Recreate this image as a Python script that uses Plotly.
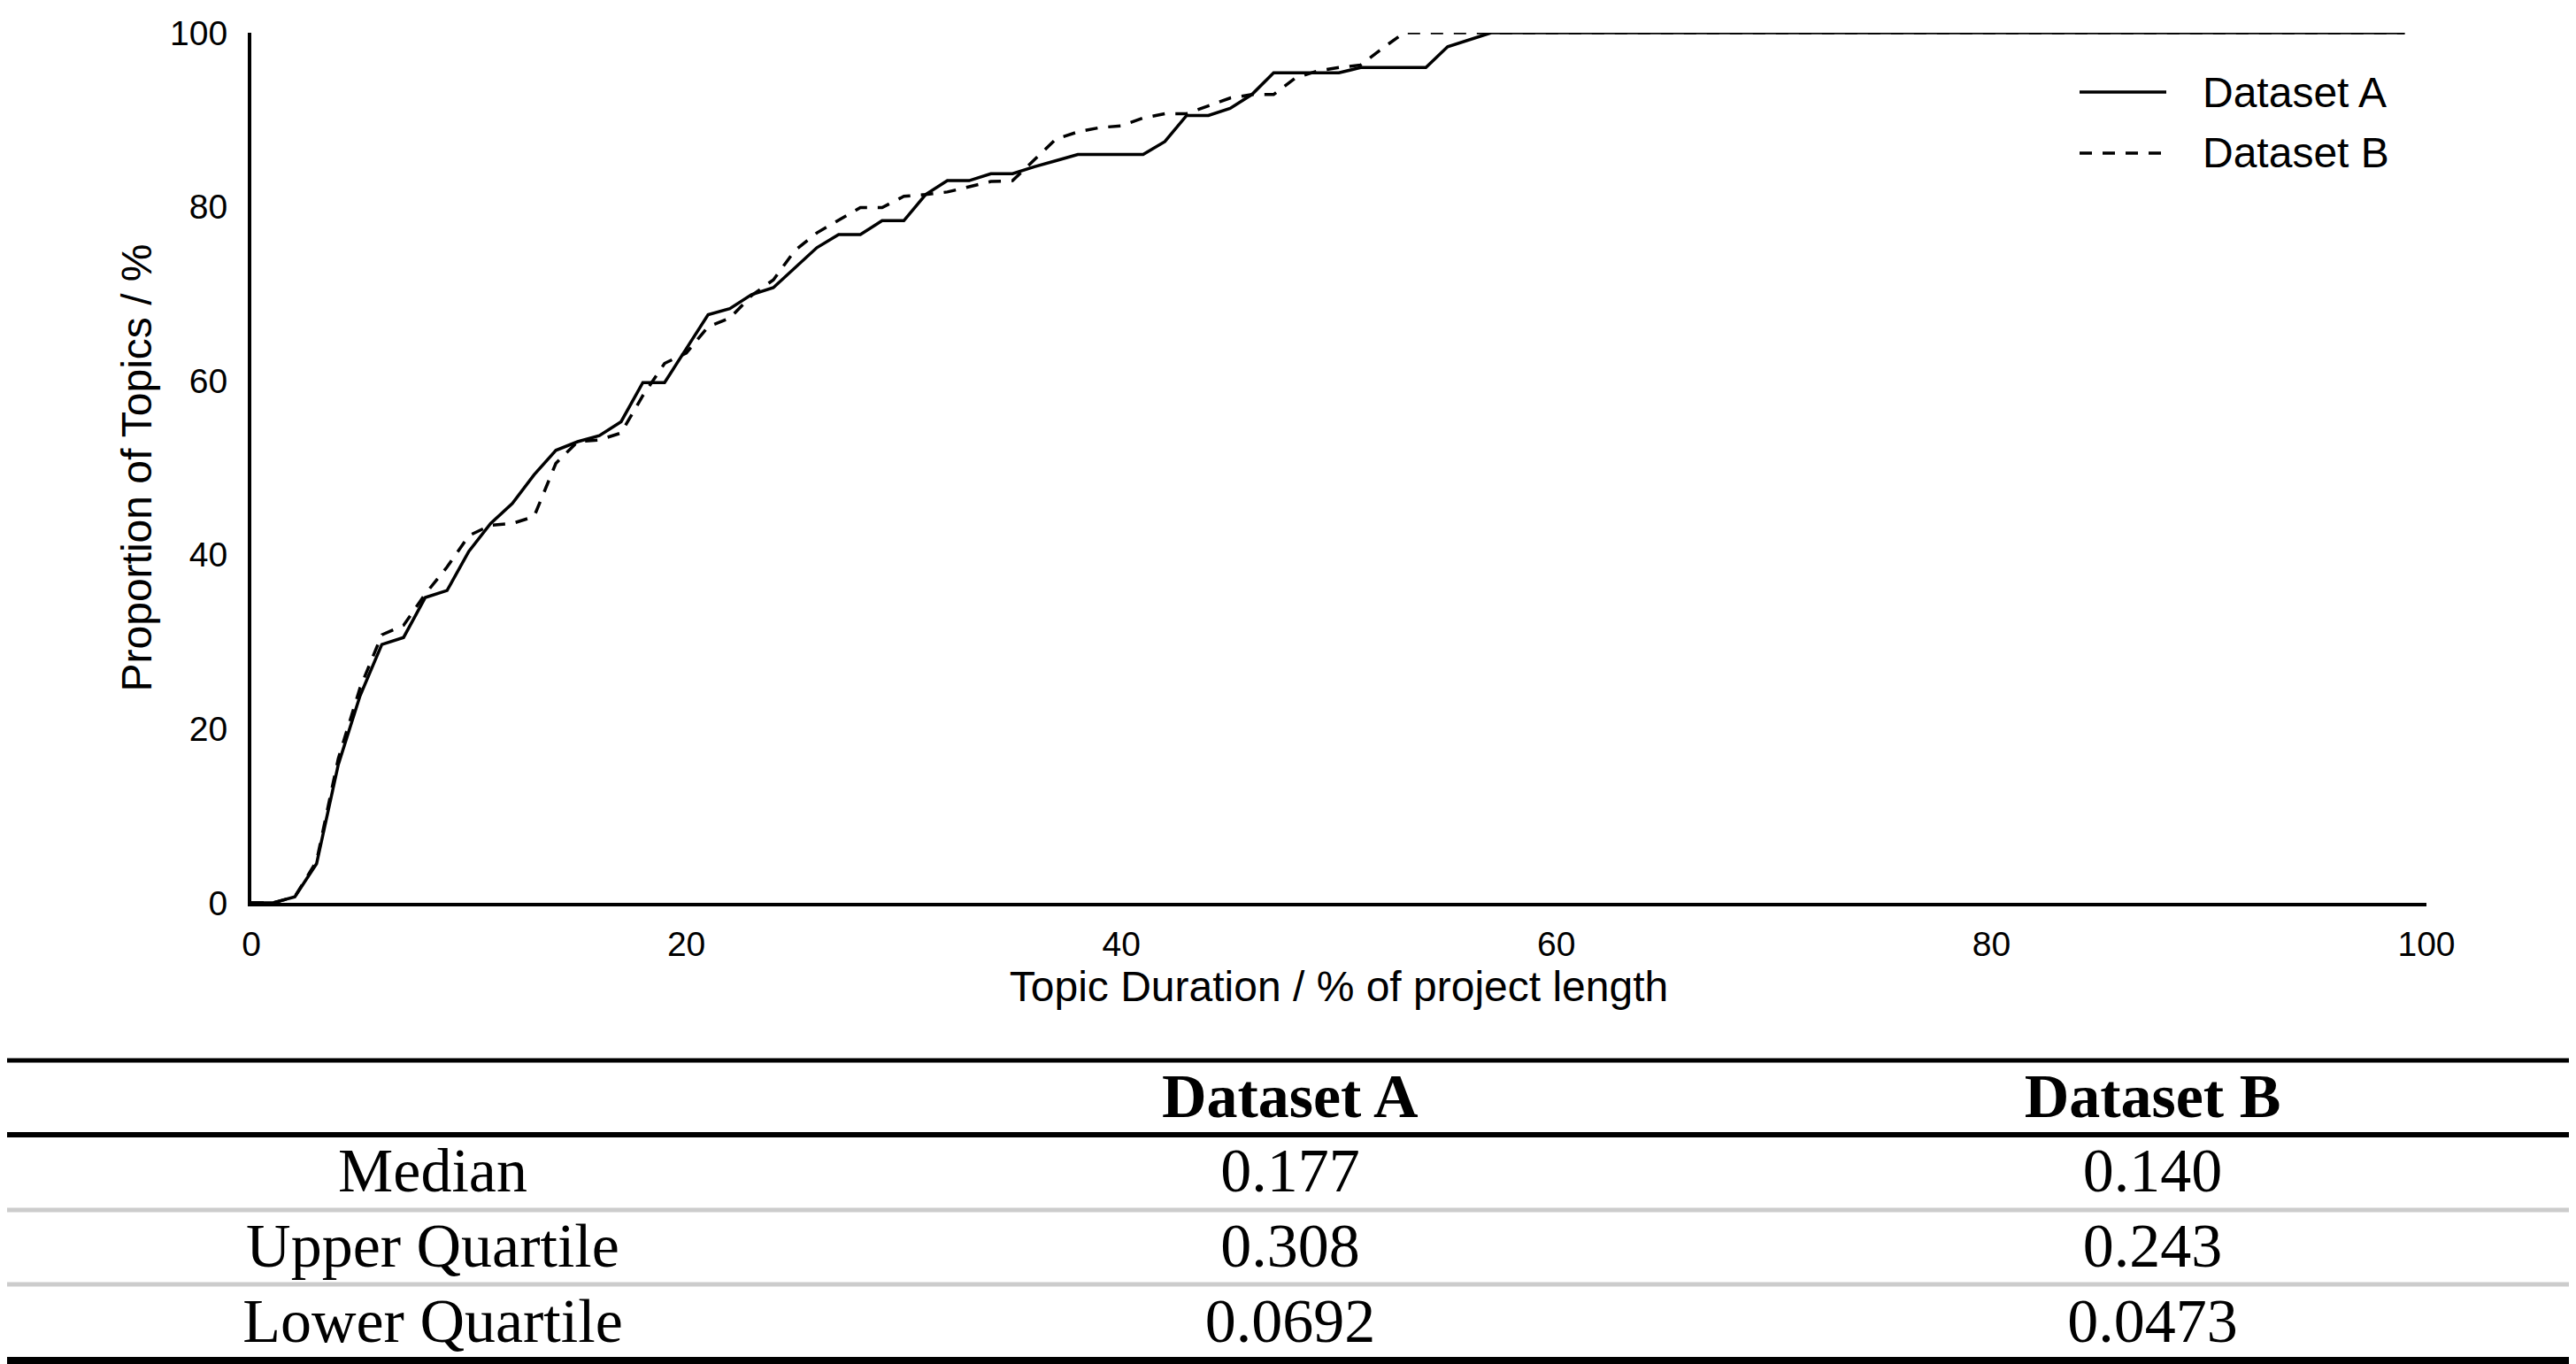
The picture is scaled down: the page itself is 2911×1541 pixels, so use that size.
import plotly.graph_objects as go

# ---------------- data ----------------
duration = list(range(0, 100))  # Topic duration, % of project length

dataset_a = [0, 0, 0.7, 4.5, 15.9, 23.8, 29.7, 30.5, 35.1, 35.9,
             40.4, 43.6, 45.9, 49.2, 52.0, 53.0, 53.7, 55.3, 59.8, 59.8,
             63.7, 67.6, 68.3, 69.9, 70.7, 73.0, 75.3, 76.8, 76.8, 78.4,
             78.4, 81.4, 83.0, 83.0, 83.8, 83.8, 84.6, 85.3, 86.0, 86.0,
             86.0, 86.0, 87.5, 90.5, 90.5, 91.3, 92.9, 95.4, 95.4, 95.4,
             95.4, 96.0, 96.0, 96.0, 96.0, 98.4, 99.2] + [100] * 43

dataset_b = [0, 0, 0.7, 4.8, 16.6, 24.7, 30.8, 31.9, 35.5, 38.6,
             42.2, 43.4, 43.6, 44.4, 50.5, 53.0, 53.2, 54.0, 58.3, 62.0,
             63.2, 66.2, 67.2, 69.8, 71.6, 75.0, 77.0, 78.4, 79.9, 79.9,
             81.2, 81.4, 81.7, 82.3, 82.9, 83.0, 85.4, 87.8, 88.6, 89.1,
             89.3, 90.2, 90.7, 90.7, 91.6, 92.5, 92.9, 92.9, 94.8, 95.6,
             96.0, 96.3, 98.2] + [100] * 47

series_names = ["Dataset A", "Dataset B"]
tick_values = [0, 20, 40, 60, 80, 100]

table_row_labels = ["Median", "Upper Quartile", "Lower Quartile"]
table_a = ["0.177", "0.308", "0.0692"]
table_b = ["0.140", "0.243", "0.0473"]

# ---------------- layout constants ----------------
W, H = 2911, 1541
OFF = 8  # page body offset compensation
def px_x(p):
    return (p - OFF) / W
def px_y(p):
    return 1 - (p - OFF) / H

SANS = "Liberation Sans, Arial, sans-serif"
SERIF = "Liberation Serif, Times New Roman, serif"
DASH = "14px,12px"

fig = go.Figure()

fig.add_trace(go.Scatter(x=duration, y=dataset_a, mode="lines", name=series_names[0],
                         line=dict(color="black", width=3.5), showlegend=False))
fig.add_trace(go.Scatter(x=duration, y=dataset_b, mode="lines", name=series_names[1],
                         line=dict(color="black", width=3.5, dash=DASH), showlegend=False))

# table
fig.add_trace(go.Table(
    domain=dict(x=[0, 1], y=[0, px_y(1192)]),
    columnwidth=[962, 976, 973],
    header=dict(values=["", "<b>" + series_names[0] + "</b>", "<b>" + series_names[1] + "</b>"],
                font=dict(family=SERIF, size=70, color="black"),
                align="center", height=84,
                fill=dict(color="white"), line=dict(color="white", width=0)),
    cells=dict(values=[table_row_labels, table_a, table_b],
               font=dict(family=SERIF, size=70, color="black"),
               align="center", height=85,
               fill=dict(color="white"), line=dict(color="white", width=0)),
))

fig.update_layout(
    width=W, height=H,
    margin=dict(l=0, r=0, t=0, b=0, autoexpand=False),
    paper_bgcolor="white", plot_bgcolor="white",
    xaxis=dict(domain=[px_x(284), px_x(2742)], range=[0, 100],
               tickvals=tick_values, ticks="", showgrid=False, zeroline=False,
               showline=True, linecolor="black", linewidth=4, automargin=False,
               tickfont=dict(family=SANS, size=39, color="black"),
               ticklabelstandoff=9,
               title=dict(text="Topic Duration / % of project length",
                          font=dict(family=SANS, size=48, color="black"), standoff=10)),
    yaxis=dict(domain=[px_y(1020), px_y(37)], range=[0, 100],
               tickvals=tick_values, ticks="", showgrid=False, zeroline=False,
               showline=True, linecolor="black", linewidth=4, automargin=False,
               tickfont=dict(family=SANS, size=39, color="black"),
               ticklabelstandoff=15,
               title=dict(text="Proportion of Topics / %",
                          font=dict(family=SANS, size=48, color="black"), standoff=6)),
)

# legend (drawn manually to match long sample lines)
legend_rows = [(104, "solid"), (173, DASH)]
for (ypix, dash), name in zip(legend_rows, series_names):
    fig.add_shape(type="line", xref="paper", yref="paper",
                  x0=px_x(2350), x1=px_x(2448), y0=px_y(ypix), y1=px_y(ypix),
                  line=dict(color="black", width=3.5, dash=dash))
    fig.add_annotation(xref="paper", yref="paper", x=px_x(2487), y=px_y(ypix),
                       xanchor="left", yanchor="middle", showarrow=False,
                       text=name, font=dict(family=SANS, size=48, color="black"))

# table rules
rules = [(1198, "black", 5), (1282, "black", 6), (1367, "#cccccc", 5),
         (1451, "#cccccc", 5), (1537, "black", 8)]
for ypix, col, wdt in rules:
    fig.add_shape(type="line", xref="paper", yref="paper", x0=px_x(0), x1=1,
                  y0=px_y(ypix), y1=px_y(ypix), line=dict(color=col, width=wdt))

fig.write_html("out.html")
